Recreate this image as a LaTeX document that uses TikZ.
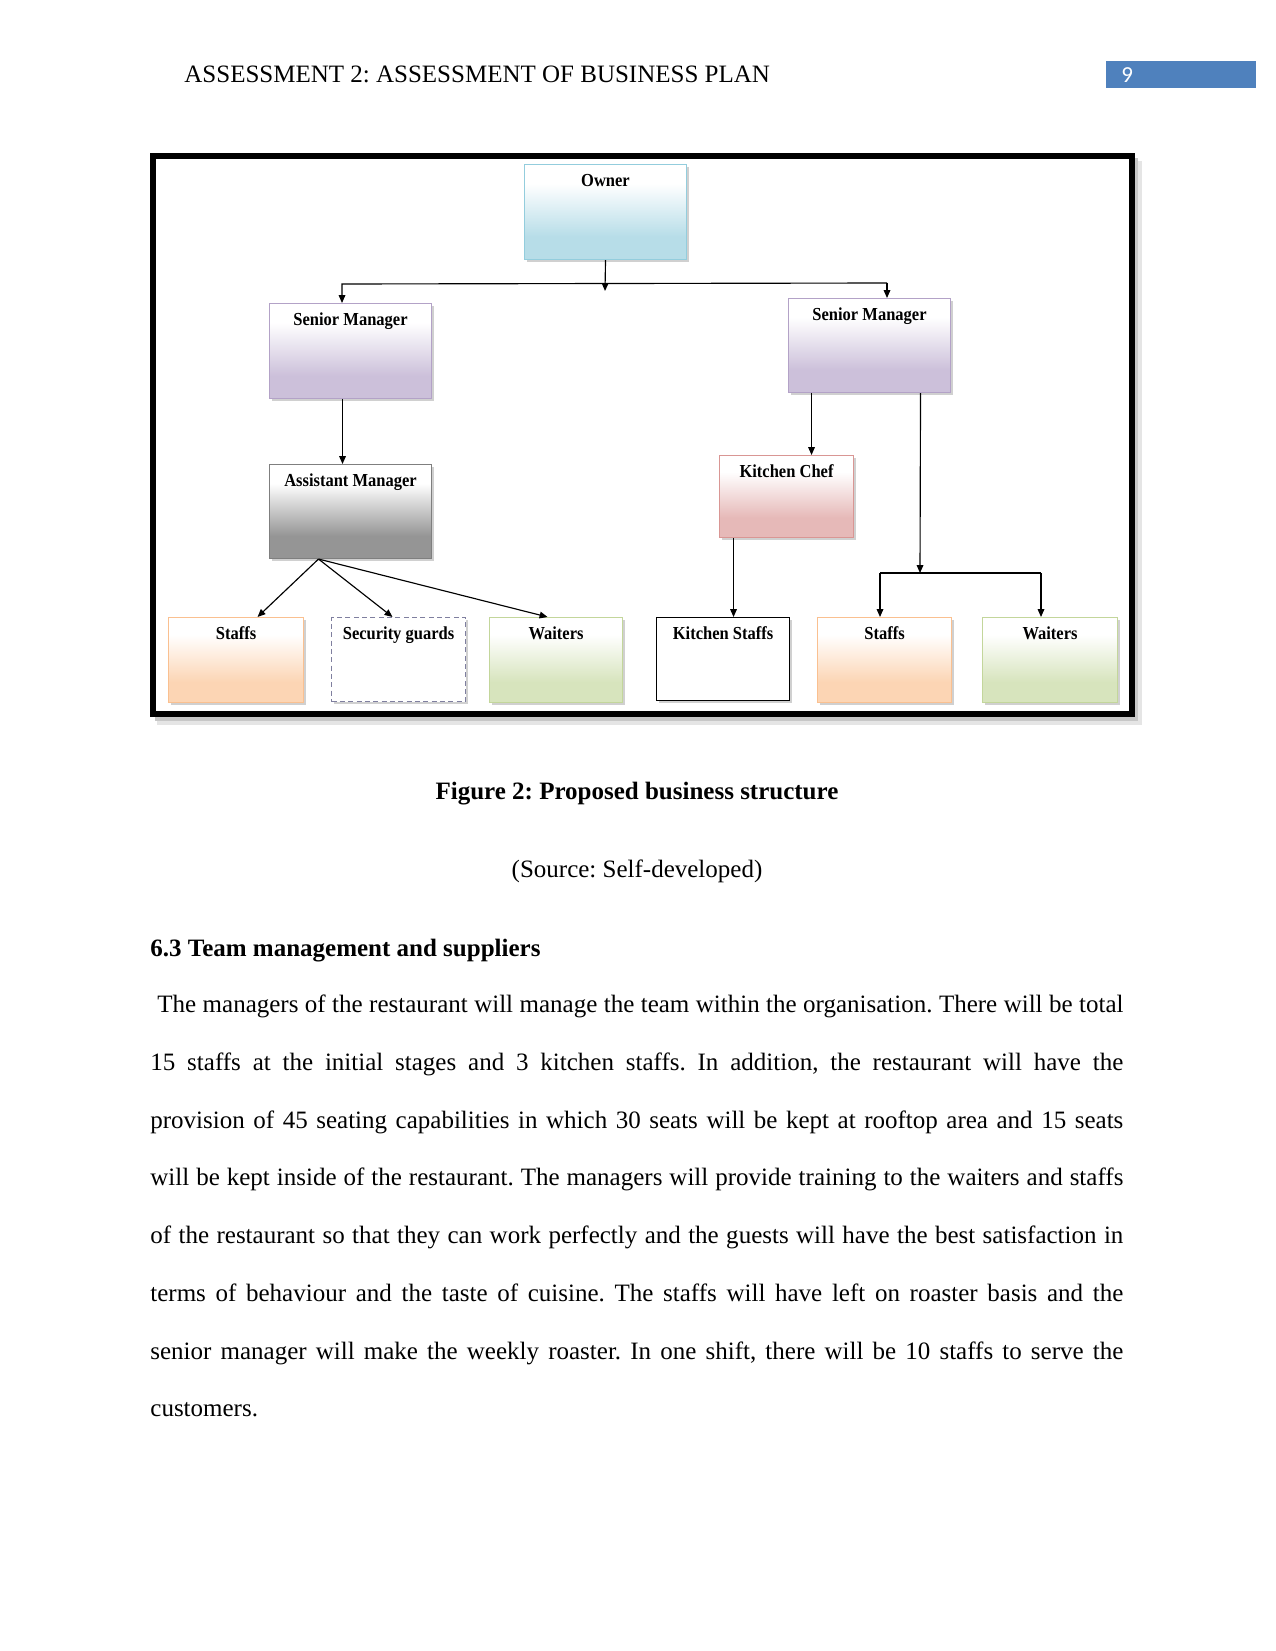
\documentclass[tikz,border=0pt]{standalone}
\usepackage{fontspec}
\usepackage{graphicx}
\setmainfont{Liberation Serif}
\newfontfamily\pnfont{Carlito}
\usetikzlibrary{arrows.meta,shadows}
\frenchspacing
\newdimen\px \px=0.48pt
\definecolor{ownerc}{HTML}{B7DDE8}\definecolor{ownerd}{HTML}{93CDDD}
\definecolor{smc}{HTML}{CCC0DA}\definecolor{smd}{HTML}{B3A2C7}
\definecolor{amc}{HTML}{959595}\definecolor{amd}{HTML}{7F7F7F}
\definecolor{kcc}{HTML}{E6B9B8}\definecolor{kcd}{HTML}{D99694}
\definecolor{stc}{HTML}{FCD5B4}\definecolor{std}{HTML}{FAC090}
\definecolor{wtc}{HTML}{D7E4BD}\definecolor{wtd}{HTML}{C3D69B}
\definecolor{sgd}{HTML}{7F7F9F}
\definecolor{pnblue}{HTML}{4F81BD}
\colorlet{shadecol}{white}
\pgfdeclareverticalshading[shadecol]{boxshade}{100bp}{color(0bp)=(shadecol); color(37bp)=(shadecol); color(65bp)=(white); color(100bp)=(white)}
\newcommand\bxt[1]{\scalebox{0.9}[1]{#1}}
\tikzset{
  bx/.style={rectangle, inner sep=0pt, anchor=north west, text height=22\px,
    font=\bfseries\fontsize{8.8}{10}\selectfont, line width=0.5pt,
    drop shadow={shadow xshift=1.2pt, shadow yshift=-1.2pt, fill=black!30, opacity=0.6}},
  shbox/.style={bx, /utils/exec={\colorlet{shadecol}{#1c}}, shading=boxshade, draw=#1d},
  plainbox/.style={bx, fill=white},
  arr/.style={-{Triangle[length=3.8pt,width=3.2pt]}, line width=0.55pt},
  ln/.style={line width=0.55pt},
  bodyline/.style={anchor=base west, inner sep=0pt, font=\fontsize{12}{14}\selectfont},
}
\begin{document}
\begin{tikzpicture}[x=0.48pt,y=-0.48pt]
\useasboundingbox (0,0) rectangle (1275,1651);
\fill[white] (0,0) rectangle (1275,1651);
% header
\node[bodyline] (hdr) at (184,83) {ASSESSMENT 2: ASSESSMENT OF BUSINESS PLAN};
\node[fill=pnblue, minimum width=150\px, minimum height=27\px, anchor=north west, inner sep=0pt] (pn) at (1106,61) {};
\node[anchor=west, inner sep=0pt, text=white, font=\pnfont\fontsize{11}{13}\selectfont] (pnt) at (1121,75) {9};
% frame with shadow
\fill[black!10] (157,161) rectangle (1142,725);
\fill[black!22] (155,158) rectangle (1138,721);
\draw[line width=6\px, fill=white] (153,156) rectangle (1132,714);
% boxes
\node[shbox=owner, minimum width=162\px, text depth=73\px] (owner) at (524,164) {\bxt{Owner}};
\node[shbox=sm, minimum width=162\px, text depth=73\px] (sm1) at (269,303) {\bxt{Senior Manager}};
\node[shbox=sm, minimum width=162\px, text depth=72\px] (sm2) at (788,298) {\bxt{Senior Manager}};
\node[shbox=am, minimum width=162\px, text depth=72\px] (am) at (269,464) {\bxt{Assistant Manager}};
\node[shbox=kc, minimum width=134\px, text depth=60\px] (kc) at (719,455) {\bxt{Kitchen Chef}};
\node[shbox=st, minimum width=135\px, text depth=63\px] (st1) at (168,617) {\bxt{Staffs}};
\node[bx, fill=white, draw=sgd, dash pattern=on 2.4pt off 1.6pt, drop shadow={opacity=0}, minimum width=134\px, text depth=62\px] (sg) at (331,617) {\bxt{Security guards}};
\node[shbox=wt, minimum width=133\px, text depth=63\px] (wt1) at (489,617) {\bxt{Waiters}};
\node[bx, fill=white, draw=black, drop shadow={opacity=0}, minimum width=133\px, text depth=61\px] (ks) at (656,617) {\bxt{Kitchen Staffs}};
\node[shbox=st, minimum width=134\px, text depth=63\px] (st2) at (817,617) {\bxt{Staffs}};
\node[shbox=wt, minimum width=135\px, text depth=63\px] (wt2) at (982,617) {\bxt{Waiters}};
% connectors
\coordinate (oj) at (605,291);
\coordinate (busL) at (342,284);
\coordinate (busR) at (887,283);
\draw[arr] (owner.south) -- (oj);
\draw[arr] (busR) -- (busL) -- (busL |- sm1.north);
\draw[arr] (busR) -- (busR |- sm2.north);
\draw[arr] ([xshift=-8\px]sm1.south) -- ([xshift=-8\px]sm1.south |- am.north);
\coordinate (amj) at ([xshift=-32\px]am.south);
\draw[arr] (amj) -- ([xshift=21.5\px]st1.north);
\draw[arr] (amj) -- ([xshift=-6\px]sg.north);
\draw[arr] (amj) -- ([xshift=-8.5\px]wt1.north);
\draw[arr] ([xshift=-58\px]sm2.south) -- ([xshift=-58\px]sm2.south |- kc.north);
\draw[arr] ([xshift=-53\px]kc.south) -- ([xshift=-53\px]kc.south |- ks.north);
\coordinate (j2) at (920,573);
\coordinate (j2L) at (880,573);
\coordinate (j2R) at (1041,573);
\draw[arr] ([xshift=51\px]sm2.south) -- (j2);
\draw[ln] (j2L) -- (j2R);
\draw[arr] (j2L) -- (j2L |- st2.north);
\draw[arr] (j2R) -- (j2R |- wt2.north);
% captions
\node[anchor=base, inner sep=0pt, font=\bfseries\fontsize{12}{14}\selectfont] (cap) at (637,799) {Figure 2: Proposed business structure};
\node[anchor=base, inner sep=0pt, font=\fontsize{12}{14}\selectfont] (src) at (637,877) {(Source: Self-developed)};
\node[anchor=base west, inner sep=0pt, font=\bfseries\fontsize{12}{14}\selectfont] (h63) at (150,956) {6.3 Team management and suppliers};
% paragraph
\node[bodyline] (l1) at (157,1012) {\makebox[463.7pt][s]{The managers of the restaurant will manage the team within the organisation. There will be total}};
\node[bodyline] (l2) at (150,1070) {\makebox[467pt][s]{15 staffs at the initial stages and 3 kitchen staffs. In addition, the restaurant will have the}};
\node[bodyline] (l3) at (150,1128) {\makebox[467pt][s]{provision of 45 seating capabilities in which 30 seats will be kept at rooftop area and 15 seats}};
\node[bodyline] (l4) at (150,1185) {\makebox[467pt][s]{will be kept inside of the restaurant. The managers will provide training to the waiters and staffs}};
\node[bodyline] (l5) at (150,1243) {\makebox[467pt][s]{of the restaurant so that they can work perfectly and the guests will have the best satisfaction in}};
\node[bodyline] (l6) at (150,1301) {\makebox[467pt][s]{terms of behaviour and the taste of cuisine. The staffs will have left on roaster basis and the}};
\node[bodyline] (l7) at (150,1359) {\makebox[467pt][s]{senior manager will make the weekly roaster. In one shift, there will be 10 staffs to serve the}};
\node[bodyline] (l8) at (150,1416) {customers.};
\end{tikzpicture}
\end{document}
